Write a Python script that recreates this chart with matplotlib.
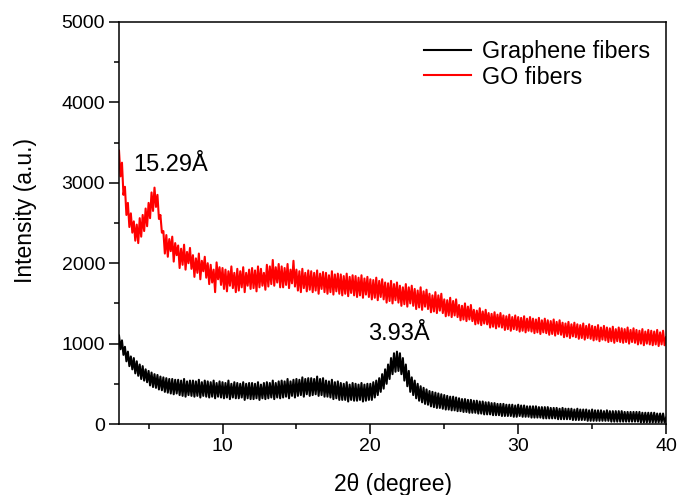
import numpy as np
import matplotlib
matplotlib.use("Agg")
import matplotlib.pyplot as plt
from matplotlib.ticker import MultipleLocator

plt.rcParams['font.family'] = ['Liberation Sans', 'DejaVu Sans']

# 2theta grid, 3 to 40 degree, step 0.1
two_theta = np.round(np.arange(3.0, 40.0001, 0.1), 1)

# GO fibers (one row per degree)
go_fibers = [
    3400, 3080, 3250, 2850, 2950, 2600, 2750, 2450, 2620, 2380,
    2520, 2280, 2480, 2250, 2560, 2330, 2600, 2400, 2680, 2460,
    2750, 2560, 2880, 2650, 2940, 2700, 2850, 2550, 2600, 2380,
    2400, 2120, 2350, 2080, 2300, 2150, 2330, 2020, 2250, 2100,
    2220, 1940, 2180, 1980, 2230, 1920, 2140, 2000, 2190, 1930,
    2100, 1830, 2060, 1880, 2120, 1800, 2030, 1900, 2080, 1820,
    2000, 1740, 1980, 1760, 1920, 1640, 2010, 1800, 1950, 1730,
    1940, 1680, 1920, 1650, 1900, 1720, 1960, 1690, 1880, 1640,
    1930, 1660, 1900, 1700, 1950, 1640, 1880, 1720, 1920, 1680,
    1940, 1690, 1910, 1650, 1960, 1700, 1930, 1720, 1880, 1670,
    1980, 1710, 1960, 1740, 2040, 1720, 1950, 1760, 1990, 1700,
    1960, 1700, 1940, 1730, 1990, 1690, 1920, 1750, 2030, 1710,
    1920, 1660, 1900, 1640, 1930, 1690, 1880, 1650, 1910, 1670,
    1900, 1640, 1880, 1660, 1910, 1620, 1870, 1680, 1890, 1640,
    1880, 1620, 1850, 1640, 1900, 1610, 1860, 1650, 1870, 1620,
    1860, 1600, 1840, 1620, 1870, 1590, 1830, 1630, 1850, 1600,
    1840, 1580, 1820, 1600, 1850, 1570, 1810, 1610, 1830, 1580,
    1800, 1550, 1790, 1570, 1820, 1540, 1780, 1580, 1800, 1550,
    1760, 1510, 1750, 1530, 1780, 1500, 1740, 1540, 1760, 1510,
    1720, 1470, 1700, 1490, 1740, 1460, 1700, 1500, 1720, 1470,
    1680, 1430, 1660, 1450, 1700, 1420, 1650, 1460, 1670, 1430,
    1620, 1390, 1600, 1400, 1640, 1380, 1600, 1410, 1620, 1380,
    1550, 1340, 1540, 1350, 1570, 1330, 1530, 1350, 1550, 1330,
    1480, 1290, 1470, 1300, 1500, 1280, 1460, 1300, 1480, 1280,
    1420, 1240, 1410, 1250, 1440, 1230, 1400, 1250, 1420, 1240,
    1380, 1200, 1370, 1210, 1390, 1190, 1360, 1210, 1380, 1200,
    1350, 1170, 1340, 1180, 1360, 1160, 1330, 1180, 1350, 1170,
    1330, 1150, 1320, 1160, 1340, 1140, 1310, 1160, 1330, 1150,
    1310, 1130, 1300, 1140, 1320, 1120, 1290, 1140, 1310, 1130,
    1290, 1110, 1280, 1120, 1300, 1100, 1270, 1120, 1290, 1110,
    1260, 1080, 1250, 1090, 1270, 1070, 1240, 1090, 1260, 1080,
    1240, 1060, 1230, 1070, 1250, 1050, 1220, 1070, 1240, 1060,
    1220, 1040, 1210, 1050, 1230, 1030, 1200, 1050, 1220, 1040,
    1200, 1020, 1190, 1030, 1210, 1010, 1180, 1030, 1200, 1020,
    1190, 1010, 1180, 1020, 1200, 1000, 1170, 1020, 1190, 1010,
    1170, 990, 1160, 1000, 1180, 980, 1150, 1000, 1170, 990,
    1160, 980, 1150, 990, 1170, 970, 1140, 990, 1160, 980,
    1080,
]

# Graphene fibers
graphene_fibers = [
    1100, 930, 1040, 860, 960, 780, 900, 720, 840, 680,
    820, 630, 780, 600, 740, 560, 720, 540, 680, 520,
    660, 480, 640, 460, 620, 450, 610, 430, 590, 420,
    580, 400, 570, 390, 560, 380, 560, 370, 550, 380,
    550, 360, 540, 350, 560, 340, 530, 360, 540, 350,
    540, 340, 530, 350, 550, 330, 520, 350, 540, 340,
    530, 330, 520, 340, 540, 320, 510, 340, 530, 330,
    520, 320, 510, 330, 540, 310, 500, 330, 520, 320,
    510, 320, 500, 330, 520, 300, 500, 320, 510, 310,
    510, 310, 500, 320, 520, 300, 490, 320, 510, 310,
    520, 320, 510, 330, 540, 310, 510, 330, 530, 320,
    540, 330, 530, 340, 560, 320, 530, 350, 550, 330,
    560, 350, 550, 360, 580, 340, 560, 370, 570, 350,
    570, 360, 560, 370, 590, 350, 560, 360, 570, 340,
    540, 340, 530, 330, 550, 310, 520, 320, 530, 300,
    510, 300, 500, 300, 520, 280, 490, 300, 510, 290,
    500, 290, 490, 300, 510, 280, 490, 290, 500, 300,
    500, 300, 520, 330, 540, 360, 570, 400, 620, 440,
    680, 500, 740, 560, 820, 620, 880, 650, 900, 660,
    880, 620, 820, 540, 740, 470, 660, 400, 580, 360,
    540, 320, 500, 290, 470, 270, 450, 250, 430, 240,
    410, 220, 400, 210, 390, 200, 380, 200, 370, 190,
    360, 180, 350, 180, 340, 170, 340, 170, 330, 160,
    320, 160, 310, 150, 310, 150, 300, 140, 300, 140,
    290, 140, 290, 130, 280, 130, 280, 120, 270, 120,
    270, 120, 260, 110, 260, 110, 250, 110, 250, 100,
    250, 100, 240, 100, 240, 100, 240, 90, 230, 90,
    240, 100, 230, 90, 230, 90, 220, 90, 220, 80,
    220, 80, 220, 80, 210, 80, 210, 70, 210, 70,
    210, 70, 200, 70, 200, 70, 200, 60, 190, 60,
    200, 60, 190, 60, 190, 60, 190, 50, 180, 50,
    190, 50, 180, 50, 180, 50, 180, 40, 170, 40,
    180, 40, 170, 40, 170, 40, 170, 40, 160, 40,
    170, 40, 160, 30, 160, 30, 160, 30, 160, 30,
    160, 30, 150, 30, 150, 30, 150, 30, 150, 30,
    150, 30, 150, 20, 140, 20, 140, 20, 140, 20,
    140, 20, 140, 20, 130, 20, 130, 20, 130, 20,
    80,
]

fig = plt.figure(figsize=(6.77, 4.95), dpi=100)
ax = fig.add_axes([0.1758, 0.1434, 0.808, 0.8122])

ax.plot(two_theta, graphene_fibers, color='black', lw=1.5, label='Graphene fibers')
ax.plot(two_theta, go_fibers, color='red', lw=1.5, label='GO fibers')

ax.set_xlim(3, 40)
ax.set_ylim(0, 5000)
ax.xaxis.set_major_locator(MultipleLocator(10))
ax.xaxis.set_minor_locator(MultipleLocator(5))
ax.yaxis.set_major_locator(MultipleLocator(1000))
ax.yaxis.set_minor_locator(MultipleLocator(500))
ax.tick_params(which='major', direction='out', length=7, width=1.1, pad=3, labelsize=14)
ax.tick_params(which='minor', direction='out', length=3.5, width=1.1)
for s in ax.spines.values():
    s.set_linewidth(1.1)

ax.set_xlabel('2θ (degree)', fontsize=16.5)
ax.set_ylabel('Intensity (a.u.)', fontsize=16.5)
ax.xaxis.set_label_coords(0.5, -0.122)
ax.yaxis.set_label_coords(-0.15, 0.53)

ax.text(3.95, 3147, '15.29Å', fontsize=17, va='baseline')
ax.text(19.85, 1045, '3.93Å', fontsize=17, va='baseline')

ax.legend(loc='upper right', frameon=False, fontsize=16.8, handlelength=2.0,
          handletextpad=0.5, labelspacing=0.12, bbox_to_anchor=(1.01, 1.008))

fig.savefig('out.png', dpi=100)
